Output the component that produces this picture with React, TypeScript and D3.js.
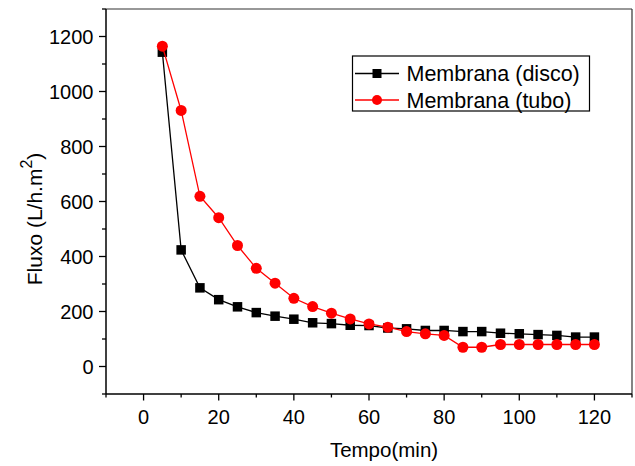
import React from "react";
import * as d3 from "d3";

const times = [5, 10, 15, 20, 25, 30, 35, 40, 45, 50, 55, 60, 65, 70, 75, 80, 85, 90, 95, 100, 105, 110, 115, 120];
const disco = [1143, 424, 286, 243, 217, 196, 183, 172, 159, 156, 150, 149, 140, 137, 131, 131, 127, 127, 121, 119, 116, 113, 107, 107];
const tubo = [1165, 931, 619, 541, 440, 357, 303, 248, 218, 194, 173, 155, 143, 127, 119, 113, 70, 70, 80, 80, 80, 80, 80, 80];
const xTicks = [0, 20, 40, 60, 80, 100, 120];
const yTicks = [0, 200, 400, 600, 800, 1000, 1200];
const seriesNames = ["Membrana (disco)", "Membrana (tubo)"];

const W = 635, H = 466;
const L = 106, R = 632, T = 9, B = 394;
const FONT = "'Liberation Sans', Arial, sans-serif";

export default function App() {
  const x = d3.scaleLinear().domain([-10, 130]).range([L, R]);
  const y = d3.scaleLinear().domain([-100, 1300]).range([B, T]);
  const line = d3.line<[number, number]>().x(d => x(d[0])).y(d => y(d[1]));
  const dData: [number, number][] = times.map((t, i) => [t, disco[i]]);
  const tData: [number, number][] = times.map((t, i) => [t, tubo[i]]);
  const xMinor = d3.range(-10, 131, 10).filter(v => v % 20 !== 0);
  const yMinor = d3.range(-100, 1301, 100).filter(v => v % 200 !== 0);
  const sq = 9.5, cr = 5.5;
  return (
    <div style={{ position: "absolute", left: 0, top: 0 }}>
      <svg width={W} height={H} style={{ display: "block", fontFamily: FONT }}>
        <rect x={0} y={0} width={W} height={H} fill="white" />
        {/* frame */}
        <line x1={L} y1={T} x2={R} y2={T} stroke="#333" strokeWidth={1.2} />
        <line x1={R} y1={T} x2={R} y2={B} stroke="#333" strokeWidth={1.2} />
        <line x1={L} y1={T} x2={L} y2={B} stroke="#000" strokeWidth={1.5} />
        <line x1={L} y1={B} x2={R} y2={B} stroke="#000" strokeWidth={1.5} />
        {/* x ticks */}
        {xTicks.map(v => (
          <g key={"xt" + v}>
            <line x1={x(v)} x2={x(v)} y1={B} y2={B + 6.5} stroke="#000" strokeWidth={1.3} />
            <text x={x(v)} y={423.5} textAnchor="middle" fontSize={20} fill="#000">{v}</text>
          </g>
        ))}
        {xMinor.map(v => (
          <line key={"xm" + v} x1={x(v)} x2={x(v)} y1={B} y2={B + 3.5} stroke="#000" strokeWidth={1.3} />
        ))}
        {/* y ticks */}
        {yTicks.map(v => (
          <g key={"yt" + v}>
            <line x1={L - 7} x2={L} y1={y(v)} y2={y(v)} stroke="#000" strokeWidth={1.3} />
            <text x={93.5} y={y(v) + 7} textAnchor="end" fontSize={20} fill="#000">{v}</text>
          </g>
        ))}
        {yMinor.map(v => (
          <line key={"ym" + v} x1={L - 4} x2={L} y1={y(v)} y2={y(v)} stroke="#000" strokeWidth={1.3} />
        ))}
        {/* axis titles */}
        <text x={384} y={457} textAnchor="middle" fontSize={20.5} fill="#000">Tempo(min)</text>
        <text transform="translate(41.5,219) rotate(-90)" textAnchor="middle" fontSize={21} fill="#000">
          Fluxo (L/h.m<tspan dy={-10} fontSize={16}>2</tspan><tspan dy={10}>)</tspan>
        </text>
        {/* series */}
        <path d={line(dData) || ""} fill="none" stroke="#000" strokeWidth={1.3} />
        {dData.map((d, i) => (
          <rect key={"d" + i} x={x(d[0]) - sq / 2} y={y(d[1]) - sq / 2} width={sq} height={sq} fill="#000" />
        ))}
        <path d={line(tData) || ""} fill="none" stroke="#ff0000" strokeWidth={1.3} />
        {tData.map((d, i) => (
          <circle key={"t" + i} cx={x(d[0])} cy={y(d[1])} r={cr} fill="#ff0000" />
        ))}
        {/* legend */}
        <rect x={352.5} y={56} width={237} height={55} fill="white" stroke="#000" strokeWidth={1.2} />
        <line x1={355} x2={399} y1={73.5} y2={73.5} stroke="#000" strokeWidth={1.3} />
        <rect x={377 - 4.5} y={73.5 - 4.5} width={9} height={9} fill="#000" />
        <text x={406.5} y={81} fontSize={21.5} fill="#000">{seriesNames[0]}</text>
        <line x1={355} x2={399} y1={100} y2={100} stroke="#ff0000" strokeWidth={1.3} />
        <circle cx={377} cy={100} r={5} fill="#ff0000" />
        <text x={406.5} y={107.5} fontSize={21.5} fill="#000">{seriesNames[1]}</text>
      </svg>
    </div>
  );
}
